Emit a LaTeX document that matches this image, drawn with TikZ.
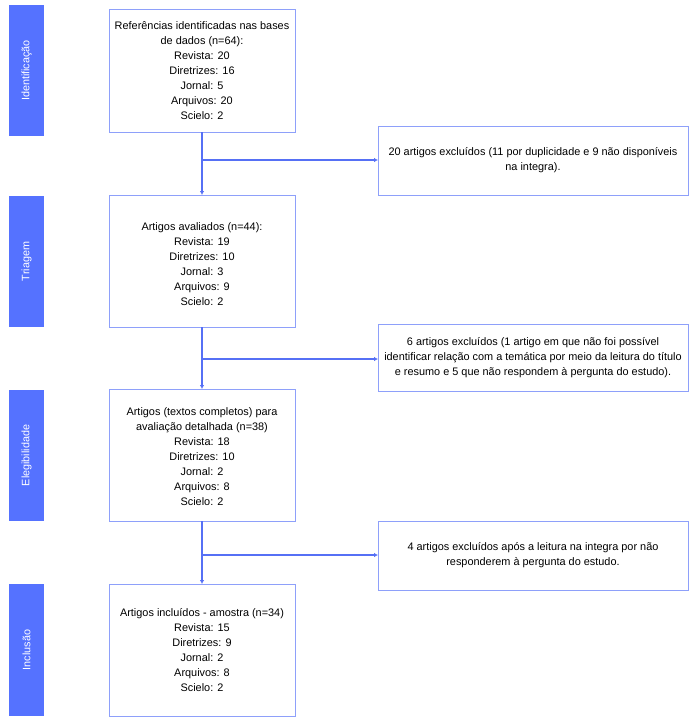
\documentclass[tikz,border=0pt]{standalone}
\usepackage{fontspec}
\setmainfont{Liberation Sans}
\usetikzlibrary{arrows.meta}
\definecolor{barblue}{HTML}{5572FF}
\definecolor{boxline}{HTML}{8EA0FA}
\definecolor{conn}{HTML}{5670F5}
\tikzset{
  x=1pt, y=-1pt,
  bar/.style={fill=barblue, draw=none},
  bartext/.style={text=white, rotate=90, font=\fontsize{10.8}{12}\selectfont},
  box/.style={draw=boxline, line width=0.9pt, fill=white},
  txt/.style={align=center, font=\fontsize{10.9}{15}\selectfont, text=black},
  conn/.style={draw=conn, line width=1.1pt},
  arr/.style={conn, -{Latex[length=4pt,width=4.5pt]}}
}
\begin{document}
\begin{tikzpicture}
\useasboundingbox (0,0) rectangle (695,724);
% side bars
\path[bar] (9,5) rectangle (44,136);
\path[bar] (9,196) rectangle (44,327);
\path[bar] (9,390) rectangle (44,521);
\path[bar] (9,584) rectangle (44,716);
\node[bartext] (l1) at (26.5,70.5) {Identificação};
\node[bartext] (l2) at (26.5,261.5) {Triagem};
\node[bartext] (l3) at (26.5,455.5) {Elegibilidade};
\node[bartext] (l4) at (26.5,650) {Inclusão};
% main boxes
\draw[box] (109,9) rectangle (295,132);
\draw[box] (109,195) rectangle (295,327);
\draw[box] (109,389) rectangle (295,521);
\draw[box] (109,584) rectangle (295,716);
\coordinate (b1t) at (202,9); \coordinate (b1b) at (202,132);
\coordinate (b2t) at (202,195); \coordinate (b2b) at (202,327);
\coordinate (b3t) at (202,389); \coordinate (b3b) at (202,521);
\coordinate (b4t) at (202,584);
\node[txt] (t1) at (202,70.5) {Referências identificadas nas bases\\de dados (n=64):\\Revista: 20\\Diretrizes: 16\\Jornal: 5\\Arquivos: 20\\Scielo: 2};
\node[txt] (t2) at (202,264) {Artigos avaliados (n=44):\\Revista: 19\\Diretrizes: 10\\Jornal: 3\\Arquivos: 9\\Scielo: 2};
\node[txt] (t3) at (202,457) {Artigos (textos completos) para\\avaliação detalhada (n=38)\\Revista: 18\\Diretrizes: 10\\Jornal: 2\\Arquivos: 8\\Scielo: 2};
\node[txt] (t4) at (202,650) {Artigos incluídos - amostra (n=34)\\Revista: 15\\Diretrizes: 9\\Jornal: 2\\Arquivos: 8\\Scielo: 2};
% right boxes
\draw[box] (378,126) rectangle (688,195);
\draw[box] (378,324) rectangle (688,391);
\draw[box] (378,521) rectangle (688,590);
\coordinate (r1) at (378,160); \coordinate (r2) at (378,359); \coordinate (r3) at (378,555);
\node[txt] (rt1) at (533,160.5) {20 artigos excluídos (11 por duplicidade e 9 não disponíveis\\na integra).};
\node[txt] (rt2) at (533,358) {6 artigos excluídos (1 artigo em que não foi possível\\identificar relação com a temática por meio da leitura do título\\e resumo e 5 que não respondem à pergunta do estudo).};
\node[txt] (rt3) at (533,555.5) {4 artigos excluídos após a leitura na integra por não\\responderem à pergunta do estudo.};
% connectors
\coordinate (j1) at (202,160); \coordinate (j2) at (202,359); \coordinate (j3) at (202,555);
\draw[arr] (b1b) -- (b2t);
\draw[arr] (j1) -- (r1);
\draw[arr] (b2b) -- (b3t);
\draw[arr] (j2) -- (r2);
\draw[arr] (b3b) -- (b4t);
\draw[arr] (j3) -- (r3);
\end{tikzpicture}
\end{document}
